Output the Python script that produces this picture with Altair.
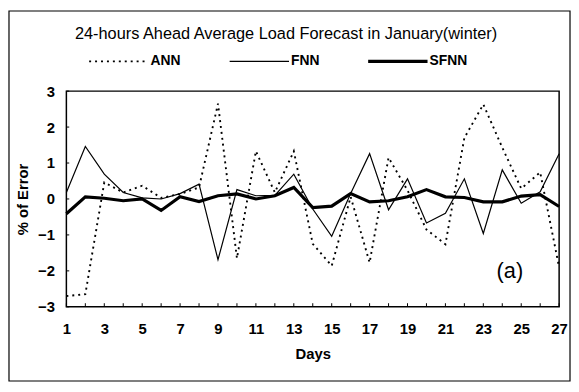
import altair as alt
import pandas as pd

days = list(range(1, 28))
ann = [-2.7, -2.65, 0.46, 0.18, 0.37, 0.03, 0.14, 0.32, 2.65, -1.65, 1.33, 0.18, 1.33, -1.25,
       -1.86, 0.06, -1.77, 1.15, 0.24, -0.85, -1.26, 1.7, 2.63, 1.43, 0.29, 0.74, -1.9]
fnn = [0.18, 1.46, 0.69, 0.18, 0.03, 0.0, 0.15, 0.41, -1.69, 0.26, 0.09, 0.1, 0.69, -0.28,
       -1.04, 0.15, 1.26, -0.3, 0.56, -0.67, -0.4, 0.56, -0.96, 0.81, -0.12, 0.2, 1.26]
sfnn = [-0.41, 0.06, 0.02, -0.05, 0.0, -0.32, 0.06, -0.07, 0.09, 0.14, 0.0, 0.09, 0.32, -0.24,
        -0.2, 0.15, -0.08, -0.05, 0.06, 0.26, 0.06, 0.04, -0.08, -0.08, 0.08, 0.12, -0.21]
series_names = ["ANN", "FNN", "SFNN"]
x_labels = list(range(1, 28, 2))
y_labels = [-3, -2, -1, 0, 1, 2, 3]
title_text = "24-hours Ahead Average Load Forecast in January(winter)"
panel_label = "(a)"

FONT = "Liberation Sans"
xscale = alt.Scale(domain=[1, 27], nice=False, zero=False)
yscale = alt.Scale(domain=[-3, 3], nice=False)

styles = {
    "ANN": {"strokeWidth": 1.9, "strokeDash": [2, 4]},
    "FNN": {"strokeWidth": 1.2},
    "SFNN": {"strokeWidth": 3.2},
}
legend_pos = {"ANN": 23, "FNN": 165, "SFNN": 305}

xaxis = alt.Axis(values=x_labels, title="Days", ticks=False, domain=False, grid=False,
                 labelPadding=15, titlePadding=10, labelFlush=False, labelOverlap=False)
yaxis = alt.Axis(values=y_labels, title="% of Error", ticks=False, domain=False, grid=False,
                 labelPadding=12, titlePadding=7, labelOverlap=False, labelFlush=False)

layers = []
one = pd.DataFrame({"k": [0]})
frame = alt.Chart(one).mark_rect(filled=False, stroke="black", strokeWidth=1.2).encode(
    x=alt.value(-58), x2=alt.value(509), y=alt.value(-81), y2=alt.value(293))
layers.append(frame)

title = alt.Chart(one).mark_text(font=FONT, fontSize=16.5, color="black").encode(
    x=alt.value(222), y=alt.value(-58), text=alt.value(title_text))
layers.append(title)

for name, vals in zip(series_names, [ann, fnn, sfnn]):
    d = pd.DataFrame({"day": days, "err": vals})
    st = styles[name]
    line = alt.Chart(d).mark_line(color="black", clip=False, **st).encode(
        x=alt.X("day:Q", scale=xscale, axis=xaxis),
        y=alt.Y("err:Q", scale=yscale, axis=yaxis),
    )
    layers.append(line)
    lx = legend_pos[name]
    key = alt.Chart(one).mark_rule(color="black", **st).encode(
        x=alt.value(lx), x2=alt.value(lx + 60), y=alt.value(-30))
    lab = alt.Chart(one).mark_text(font=FONT, fontSize=14, fontWeight="bold", color="black",
                                   align="left", baseline="middle").encode(
        x=alt.value(lx + 62), y=alt.value(-30), text=alt.value(name))
    layers += [key, lab]

xt = pd.DataFrame({"day": days, "y0": [-3] * len(days), "y1": [-2.9] * len(days)})
xticks = alt.Chart(xt).mark_rule(color="black", strokeWidth=1).encode(
    x=alt.X("day:Q", scale=xscale, axis=xaxis), y=alt.Y("y0:Q", scale=yscale, axis=yaxis), y2="y1:Q")

yt = pd.DataFrame({"v": y_labels, "x0": [1] * len(y_labels), "x1": [1.15] * len(y_labels)})
yticks = alt.Chart(yt).mark_rule(color="black", strokeWidth=1).encode(
    y=alt.Y("v:Q", scale=yscale, axis=yaxis), x=alt.X("x0:Q", scale=xscale, axis=xaxis), x2="x1:Q")

ann_df = pd.DataFrame({"x": [24.4], "y": [-2.0], "t": [panel_label]})
plabel = alt.Chart(ann_df).mark_text(font=FONT, fontSize=22, color="black").encode(
    x=alt.X("x:Q", scale=xscale, axis=xaxis), y=alt.Y("y:Q", scale=yscale, axis=yaxis), text="t:N")
layers += [xticks, yticks, plabel]

chart = alt.layer(*layers).properties(
    width=498, height=218,
    autosize=alt.AutoSizeParams(type="none"),
    padding={"left": 59, "top": 82, "right": 12, "bottom": 76},
).configure_view(stroke="black", strokeWidth=1.5).configure_axis(
    labelFont=FONT, labelFontSize=15, labelFontWeight="bold", labelColor="black",
    titleFont=FONT, titleFontSize=15, titleFontWeight="bold", titleColor="black",
    labelOverlap=False,
)

chart.save("out.html", embed_options={"renderer": "svg", "actions": False})
